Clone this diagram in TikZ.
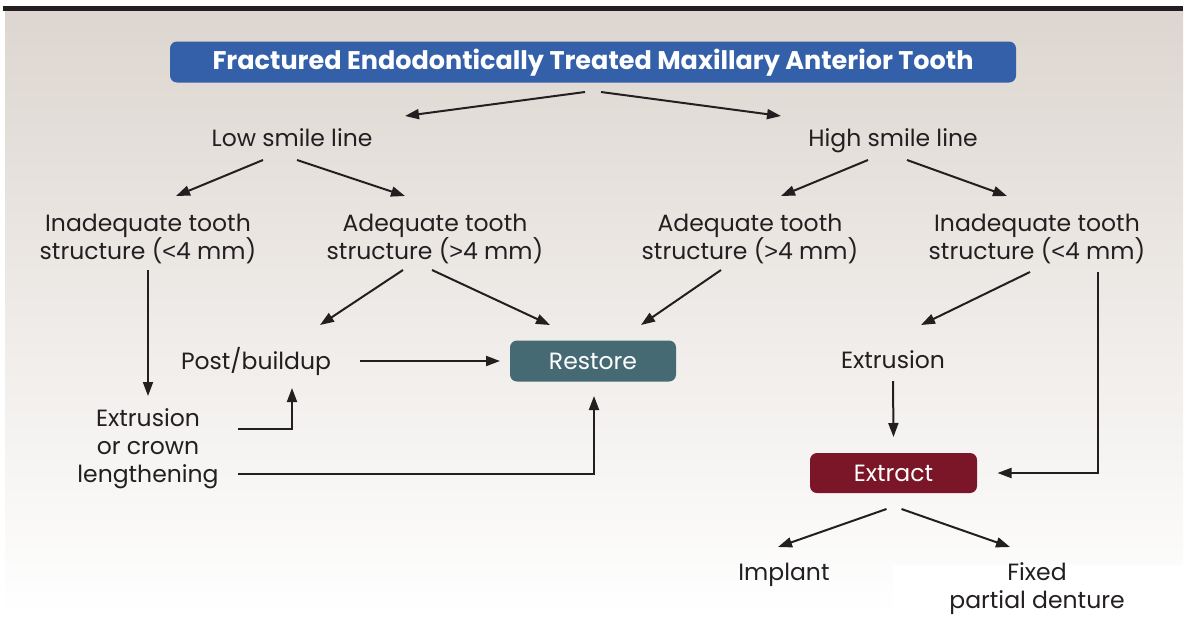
\documentclass[tikz,border=0pt]{standalone}
\usepackage{fontspec}
\setmainfont{Poppins}
\newfontfamily\symf{Liberation Sans}
\usetikzlibrary{arrows.meta,calc}
\definecolor{titleblue}{HTML}{3460A9}
\definecolor{restoreteal}{HTML}{466A74}
\definecolor{extractred}{HTML}{7A1628}
\definecolor{bgtop}{HTML}{DDD6D0}
\definecolor{ink}{HTML}{231F20}
\newcommand{\boxstrut}{\rule[-3.4pt]{0pt}{23.4pt}}
\newcommand{\titlestrut}{\rule[-1.5pt]{0pt}{24pt}}
\newcommand{\bodyfont}{\fontsize{23.5}{28}\selectfont\lineskiplimit-100pt\relax}
\tikzset{
  txt/.style={font=\bodyfont, align=center, text=ink, inner sep=0pt},
  box/.style={rounded corners=7pt, text=white, inner sep=0pt},
  arr/.style={draw=ink, line width=2pt, -{Triangle[length=14pt,width=10pt]}}
}
\begin{document}
\begin{tikzpicture}[x=1pt,y=-1pt]
\useasboundingbox (0,0) rectangle (1188,638);
\shade[top color=bgtop,bottom color=white] (5,11) rectangle (1183,615);
\fill[white] (893,565) rectangle (1183,615);
\fill[ink] (3,6) rectangle (1183,11);

\node[box, fill=titleblue, minimum width=846pt, minimum height=41pt, font=\fontsize{25.5}{28}\selectfont\bfseries] (title) at (593,62) {\titlestrut Fractured Endodontically Treated Maxillary Anterior Tooth};
\node[txt] (low) at (292,140.4) {\strut Low smile line};
\node[txt] (high) at (893,140.4) {\strut High smile line};
\node[txt] (inadL) at (148,239.7) {\strut Inadequate tooth\\\strut structure ({\symf <}4 mm)};
\node[txt] (adL) at (435,239.7) {\strut Adequate tooth\\\strut structure ({\symf >}4 mm)};
\node[txt] (adR) at (750,239.7) {\strut Adequate tooth\\\strut structure ({\symf >}4 mm)};
\node[txt] (inadR) at (1037,239.7) {\strut Inadequate tooth\\\strut structure ({\symf <}4 mm)};
\node[txt] (post) at (256,362.7) {\strut Post/buildup};
\node[box, fill=restoreteal, minimum width=166pt, minimum height=41pt, font=\bodyfont] (restore) at (593,361) {\boxstrut Restore};
\node[txt] (extr) at (893,363.2) {\strut Extrusion};
\node[txt] (ext) at (148,448.4) {\strut Extrusion\\\strut or crown\\\strut lengthening};
\node[box, fill=extractred, minimum width=167pt, minimum height=40pt, font=\bodyfont] (extract) at (893.5,473) {\boxstrut Extract};
\node[txt] (implant) at (784,574.4) {\strut Implant};
\node[txt] (fixed) at (1037,588.4) {\strut Fixed\\\strut partial denture};

\draw[arr] ([shift={(-8,30)}]title.center) -- ([shift={(113,-24.4)}]low.center);
\draw[arr] ([shift={(8,30)}]title.center) -- ([shift={(-112,-24.4)}]high.center);
\draw[arr] ([shift={(-29,19.6)}]low.center) -- ([shift={(28,-43.7)}]inadL.center);
\draw[arr] ([shift={(5,19.6)}]low.center) -- ([shift={(-30,-43.7)}]adL.center);
\draw[arr] ([shift={(-25,19.6)}]high.center) -- ([shift={(31,-43.7)}]adR.center);
\draw[arr] ([shift={(14,19.6)}]high.center) -- ([shift={(-30,-43.7)}]inadR.center);
\draw[arr] ([shift={(0,30.3)}]inadL.center) -- ([shift={(0,-52.4)}]ext.center);
\draw[arr] ([shift={(-32,30.3)}]adL.center) -- ([shift={(64,-37.7)}]post.center);
\draw[arr] ([shift={(-3,30.3)}]adL.center) -- ([shift={(-43,-36)}]restore.center);
\draw[arr] ([shift={(-29,30.3)}]adR.center) -- ([shift={(48,-36)}]restore.center);
\draw[arr] ([shift={(-7,32.3)}]inadR.center) -- ([shift={(28,-38.2)}]extr.center);
\draw[arr] ([shift={(61,32.3)}]inadR.center) |- ([shift={(104,0)}]extract.center);
\draw[arr] ([shift={(104,-1.7)}]post.center) -- ([shift={(-93,0)}]restore.center);
\draw[arr] ([shift={(90,-19.4)}]ext.center) -| ([shift={(36,25.3)}]post.center);
\draw[arr] ([shift={(90,25.6)}]ext.center) -| ([shift={(1,35)}]restore.center);
\draw[arr] ([shift={(0,17.8)}]extr.center) -- ([shift={(0,-36)}]extract.center);
\draw[arr] ([shift={(-7,36)}]extract.center) -- ([shift={(-6,-27.4)}]implant.center);
\draw[arr] ([shift={(8,36)}]extract.center) -- ([shift={(-27,-41.4)}]fixed.center);
\end{tikzpicture}
\end{document}
